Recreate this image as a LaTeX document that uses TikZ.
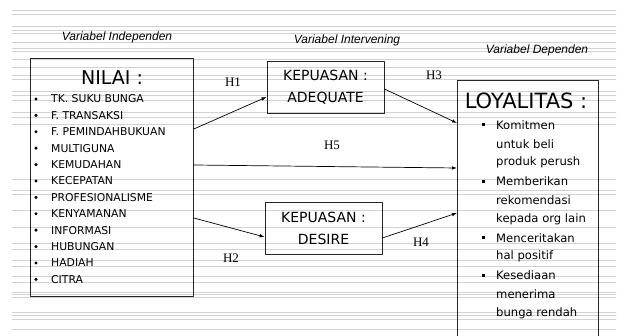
\documentclass[tikz,border=0pt]{standalone}
\usepackage{fontspec}
\setmainfont{Liberation Serif}
\newfontfamily\handfont{DejaVu Sans}
\newfontfamily\slidefont{Liberation Sans}
\usetikzlibrary{calc,arrows.meta}

\tikzset{
  varlabel/.style={font=\slidefont\itshape\fontsize{12}{14}\selectfont, inner sep=0pt},
  hyplabel/.style={font=\fontsize{13}{15}\selectfont, inner sep=0pt},
  framebox/.style={draw=black!85, line width=0.8pt},
  satbox/.style={framebox, minimum width=117pt, minimum height=52pt, align=center,
    font=\handfont\fontsize{14}{22}\selectfont},
  item/.style={anchor=west, inner sep=0pt, font=\handfont\fontsize{10.8}{12}\selectfont},
  loyitem/.style={anchor=west, inner sep=0pt, font=\handfont\fontsize{11.6}{13}\selectfont},
  link/.style={-{Latex[length=5pt,width=3.5pt]}, line width=0.7pt},
}

\begin{document}
\begin{tikzpicture}[x=1pt, y=-1pt, line cap=round, line join=round]

  \useasboundingbox (0,0) rectangle (622,336);

  % ---- Ruled slide background ----
  \foreach \y in {10,14,26,30,33,42,48,51,59,67,75,79,91,95,100,112,117,124,
                  179,190,194,210,227,243,249,260,266,276,282,292,294,297,312,315,319,329}
    \draw[gray!35, line width=0.5pt] (12,\y) -- (616,\y);

  % ---- Column headings ----
  \node[varlabel] (indep)  at (117,37) {Variabel Independen};
  \node[varlabel] (interv) at (347,40) {Variabel Intervening};
  \node[varlabel] (dep)    at (537,50) {Variabel Dependen};

  % ---- Independent variable: NILAI ----
  \node[framebox, minimum width=163pt, minimum height=238pt, anchor=north west] (nilai) at (30,58) {};
  \node[inner sep=0pt, font=\handfont\fontsize{19}{22}\selectfont] (nilaititle) at (112,78) {NILAI :};
  \foreach \i/\t in {0/TK. SUKU BUNGA, 1/F. TRANSAKSI, 2/F. PEMINDAHBUKUAN, 3/MULTIGUNA,
                     4/KEMUDAHAN, 5/KECEPATAN, 6/PROFESIONALISME, 7/KENYAMANAN,
                     8/INFORMASI, 9/HUBUNGAN, 10/HADIAH, 11/CITRA}{
    \fill (36,{99+16.4*\i}) circle (1.7);
    \node[item] (nilai-\i) at (51,{99+16.4*\i}) {\t};
  }

  % ---- Intervening variables ----
  \node[satbox] (adeq)   at (325.5,87) {KEPUASAN :\\ADEQUATE};
  \node[satbox] (desire) at (323.5,228) {KEPUASAN :\\DESIRE};

  % ---- Dependent variable: LOYALITAS (runs off the page) ----
  \node[framebox, minimum width=141pt, minimum height=270pt, anchor=north west] (loy) at (457,80) {};
  \node[inner sep=0pt, font=\handfont\fontsize{21}{24}\selectfont] (loytitle) at (526,101) {LOYALITAS :};
  \foreach \k/\t in {0/Komitmen, 1/untuk beli, 2/produk perush, 3/Memberikan,
                     4/rekomendasi, 5/kepada org lain, 6/Menceritakan, 7/hal positif,
                     8/Kesediaan, 9/menerima, 10/bunga rendah}
    \node[loyitem] (loy-\k) at (496,{125+18.8*\k}) {\t};
  \foreach \k in {0,3,6,8}
    \fill ($(loy-\k.west)+(-14.5,-1.5)$) rectangle ++(3,3);

  % ---- Connector end points on the box edges ----
  \coordinate (nilaiH1) at ($(nilai.north east)+(0,71)$);
  \coordinate (nilaiH5) at ($(nilai.north east)+(0,107)$);
  \coordinate (nilaiH2) at ($(nilai.north east)+(0,160)$);
  \coordinate (loyH3)   at ($(loy.north west)+(0,43)$);
  \coordinate (loyH5)   at ($(loy.north west)+(0,88)$);
  \coordinate (loyH4)   at ($(loy.north west)+(0,133)$);

  % ---- Hypothesis paths ----
  \draw[link] (nilaiH1) -- ($(adeq.west)+(0,10)$);
  \draw[link] ($(adeq.east)+(0,2)$) -- (loyH3);
  \draw[link] (nilaiH5) -- (loyH5);
  \draw[link] (nilaiH2) -- ($(desire.west)+(0,9)$);
  \draw[link] ($(desire.east)+(0,10)$) -- (loyH4);

  \node[hyplabel] (h1) at (233,82)  {H1};
  \node[hyplabel] (h3) at (434,75)  {H3};
  \node[hyplabel] (h5) at (332,145) {H5};
  \node[hyplabel] (h2) at (231,258) {H2};
  \node[hyplabel] (h4) at (421,242) {H4};

\end{tikzpicture}
\end{document}
